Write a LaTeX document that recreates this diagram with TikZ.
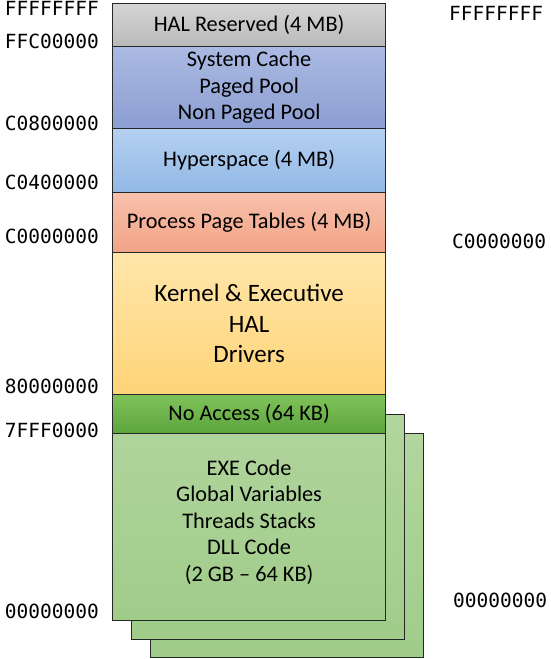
\documentclass[tikz,border=0pt]{standalone}
\usepackage{fontspec}
\setmainfont{Carlito}
\newfontfamily\addrfont{DejaVu Sans Mono}
\begin{document}
\begin{tikzpicture}[x=1pt,y=-1pt,
  seg/.style={draw=black!85,line width=1.2pt,inner sep=0pt,minimum width=273pt,anchor=north west,align=center,
    font=\fontsize{22.3}{26.5}\selectfont},
  addr/.style={font=\addrfont\fontsize{19.5}{20}\selectfont,inner sep=0pt},
  laddr/.style={addr,anchor=east},
  raddr/.style={addr,anchor=west}]
\useasboundingbox (0,0) rectangle (550,659);
% back layers
\node[seg,minimum height=224pt,top color={rgb,255:red,178;green,214;blue,158},bottom color={rgb,255:red,160;green,204;blue,138}] (layerB) at (150,433) {};
\node[seg,minimum height=225pt,top color={rgb,255:red,178;green,214;blue,158},bottom color={rgb,255:red,160;green,204;blue,138}] (layerA) at (131,414) {};
% main stack
\node[seg,minimum height=43pt,top color={rgb,255:red,212;green,212;blue,212},bottom color={rgb,255:red,186;green,186;blue,186}] (hal) at (112,3) {HAL Reserved (4 MB)};
\node[seg,minimum height=82pt,top color={rgb,255:red,170;green,186;blue,226},bottom color={rgb,255:red,140;green,158;blue,210}] (sys) at (112,46) {System Cache\\Paged Pool\\Non Paged Pool};
\node[seg,minimum height=64pt,top color={rgb,255:red,180;green,208;blue,240},bottom color={rgb,255:red,146;green,184;blue,230}] (hyper) at (112,128) {Hyperspace (4 MB)};
\node[seg,minimum height=60pt,top color={rgb,255:red,248;green,192;blue,172},bottom color={rgb,255:red,242;green,164;blue,134}] (ppt) at (112,192) {Process Page Tables (4 MB)};
\node[seg,minimum height=142pt,top color={rgb,255:red,255;green,230;blue,170},bottom color={rgb,255:red,255;green,212;blue,120},font=\fontsize{25}{30.5}\selectfont] (kernel) at (112,252) {Kernel \& Executive\\HAL\\Drivers};
\node[seg,minimum height=39pt,top color={rgb,255:red,128;green,194;blue,90},bottom color={rgb,255:red,92;green,164;blue,60}] (noacc) at (112,394) {No Access (64 KB)};
\node[seg,minimum height=187pt,top color={rgb,255:red,176;green,212;blue,156},bottom color={rgb,255:red,160;green,204;blue,138}] (user) at (112,433) {};
\node[align=center,font=\fontsize{22.3}{26.5}\selectfont,inner sep=0pt] (usertext) at ([yshift=5pt]user.center) {EXE Code\\Global Variables\\Threads Stacks\\DLL Code\\(2 GB -- 64 KB)};
% left addresses
\node[laddr] (a1) at (99,8) {FFFFFFFF};
\node[laddr] (a2) at (99,41) {FFC00000};
\node[laddr] (a3) at (99,123.5) {C0800000};
\node[laddr] (a4) at (99,182) {C0400000};
\node[laddr] (a5) at (99,236) {C0000000};
\node[laddr] (a6) at (99,386) {80000000};
\node[laddr] (a7) at (99,430) {7FFF0000};
\node[laddr] (a8) at (99,611) {00000000};
% right addresses
\node[raddr] (b1) at (449,13) {FFFFFFFF};
\node[raddr] (b2) at (452,241) {C0000000};
\node[raddr] (b3) at (453,600) {00000000};
\end{tikzpicture}
\end{document}
